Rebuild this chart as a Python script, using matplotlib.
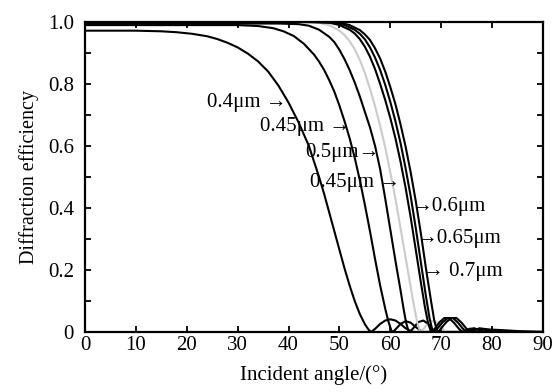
import numpy as np
import matplotlib.pyplot as plt

plt.rcParams['font.family'] = ['Liberation Serif', 'DejaVu Serif']

# curves: incident angle (deg) -> diffraction efficiency
x_04 = [0, 10, 15, 18, 21, 24, 26, 28, 30, 32, 34, 36, 38, 40, 42, 44, 46, 47, 48, 49, 50,
        51, 52, 53, 54, 55, 55.7, 56.2, 57, 58, 59, 60, 61, 62, 63, 64, 64.6, 90]
y_04 = [0.972, 0.972, 0.97, 0.967, 0.962, 0.954, 0.945, 0.933, 0.918, 0.898, 0.873, 0.84, 0.795,
        0.74, 0.675, 0.6, 0.5, 0.445, 0.385, 0.325, 0.265, 0.205, 0.15, 0.1, 0.058, 0.025, 0.008,
        0.0, 0.01, 0.026, 0.037, 0.041, 0.037, 0.026, 0.012, 0.003, 0.0, 0.0]

x_045 = [0, 30, 34, 37, 39, 41, 43, 45, 46, 47, 48, 49, 50, 51, 52, 53, 54, 55, 56, 57, 58,
         59, 59.6, 60.2, 60.5, 61, 62, 63, 64, 65, 66, 66.5, 90]
y_045 = [0.99, 0.99, 0.987, 0.98, 0.97, 0.955, 0.93, 0.895, 0.872, 0.845, 0.812, 0.775, 0.73,
         0.68, 0.625, 0.562, 0.49, 0.41, 0.325, 0.235, 0.15, 0.075, 0.035, 0.005, 0.0, 0.008,
         0.026, 0.035, 0.03, 0.016, 0.004, 0.0, 0.0]

x_05 = [0, 38, 42, 44, 46, 48, 49, 50, 51, 52, 53, 54, 55, 56, 57, 58, 59, 60, 61, 62, 62.6,
        63.1, 63.5, 63.8, 64.5, 65.5, 66.5, 67.5, 68.3, 69, 90]
y_05 = [0.995, 0.995, 0.993, 0.988, 0.975, 0.952, 0.935, 0.91, 0.88, 0.845, 0.805, 0.76, 0.71,
        0.66, 0.6, 0.525, 0.43, 0.33, 0.23, 0.135, 0.075, 0.03, 0.007, 0.0, 0.012, 0.032, 0.037,
        0.025, 0.008, 0.0, 0.0]

x_055 = [0, 42, 46, 48, 50, 51, 52, 53, 54, 55, 56, 57, 58, 59, 60, 61, 62, 63, 64, 64.7, 65.3,
         65.8, 66.1, 67, 68, 69, 70, 70.8, 90]
y_055 = [1.0, 1.0, 0.997, 0.99, 0.972, 0.958, 0.938, 0.912, 0.878, 0.835, 0.785, 0.728, 0.665,
         0.595, 0.515, 0.43, 0.335, 0.24, 0.145, 0.08, 0.03, 0.005, 0.0, 0.02, 0.036, 0.033,
         0.015, 0.0, 0.0]

x_06 = [0, 44, 48, 50, 52, 53, 54, 55, 56, 57, 58, 59, 60, 61, 62, 63, 64, 65, 66, 66.8, 67.4,
        67.9, 68.1, 68.8, 69.7, 70.6, 71.5, 72.5, 73.5, 74.2, 75.5, 76.5, 77.5, 78.5, 90]
y_06 = [1.0, 1.0, 0.998, 0.99, 0.975, 0.963, 0.945, 0.92, 0.888, 0.848, 0.8, 0.748, 0.69,
        0.625, 0.55, 0.465, 0.37, 0.265, 0.16, 0.08, 0.03, 0.005, 0.0, 0.012, 0.032, 0.045,
        0.045, 0.03, 0.01, 0.0, 0.01, 0.012, 0.005, 0.0, 0.0]

x_065 = [0, 45, 49, 51, 53, 54, 55, 56, 57, 58, 59, 60, 61, 62, 63, 64, 65, 66, 67, 67.7,
         68.2, 68.6, 69.3, 70.3, 71.3, 72.3, 73.3, 74.3, 75, 76.5, 78, 79.5, 81, 90]
y_065 = [1.0, 1.0, 0.998, 0.99, 0.975, 0.962, 0.944, 0.918, 0.885, 0.845, 0.797, 0.742, 0.68,
         0.61, 0.528, 0.438, 0.335, 0.225, 0.115, 0.045, 0.01, 0.0, 0.012, 0.032, 0.045, 0.045,
         0.03, 0.01, 0.0, 0.01, 0.008, 0.005, 0.0, 0.0]

x_07 = [0, 46, 50, 52, 54, 55, 56, 57, 58, 59, 60, 61, 62, 63, 64, 65, 66, 67, 68, 68.6,
        69.1, 69.4, 70, 71, 72, 73, 74, 75, 75.7, 77.5, 79.5, 82, 85, 90]
y_07 = [1.0, 1.0, 0.998, 0.99, 0.974, 0.96, 0.942, 0.915, 0.882, 0.84, 0.79, 0.735, 0.67,
        0.598, 0.515, 0.422, 0.318, 0.205, 0.1, 0.04, 0.008, 0.0, 0.012, 0.032, 0.045, 0.045,
        0.03, 0.01, 0.0, 0.012, 0.008, 0.006, 0.003, 0.0]

curves = [(x_04, y_04, 'black'), (x_045, y_045, 'black'), (x_05, y_05, 'black'),
          (x_055, y_055, '#cbcbcb'), (x_06, y_06, 'black'), (x_065, y_065, 'black'),
          (x_07, y_07, 'black')]

# labels as printed on the figure (the fourth one really reads 0.45)
labels = ['0.4\u03bcm \u2192', '0.45\u03bcm \u2192', '0.5\u03bcm\u2192', '0.45\u03bcm \u2192',
          '\u21920.6\u03bcm', '\u21920.65\u03bcm', '\u2192 0.7\u03bcm']
label_x = [24.0, 34.4, 43.2, 44.2, 64.2, 65.2, 66.4]
label_y = [0.741, 0.663, 0.579, 0.482, 0.405, 0.30, 0.195]

fig = plt.figure(figsize=(5.56, 3.92), dpi=100)
ax = fig.add_axes([0.1529, 0.1531, 0.8237, 0.7908])

for xs, ys, c in curves:
    ax.plot(xs, ys, color=c, lw=1.5)

for t, lx, ly in zip(labels, label_x, label_y):
    ax.text(lx, ly, t, fontsize=15, ha='left', va='center')

ax.set_xlim(0, 90)
ax.set_ylim(0, 1.0)
ax.set_xticks(np.arange(0, 91, 10))
ax.set_yticks([0, 0.2, 0.4, 0.6, 0.8, 1.0])
ax.set_yticklabels(['0', '0.2', '0.4', '0.6', '0.8', '1.0'])
ax.set_yticks(np.arange(0.1, 1.0, 0.2), minor=True)
ax.tick_params(which='both', direction='in', top=True, right=True, length=4, width=1.3,
               labelsize=15)
ax.tick_params(axis='x', pad=3)
ax.tick_params(axis='y', pad=8)
for s in ax.spines.values():
    s.set_linewidth(1.6)

ax.set_xlabel('Incident angle/(\u00b0)', fontsize=15, labelpad=7)
ax.set_ylabel('Diffraction efficiency', fontsize=14.5, labelpad=6)

fig.savefig('out.png', dpi=100)
